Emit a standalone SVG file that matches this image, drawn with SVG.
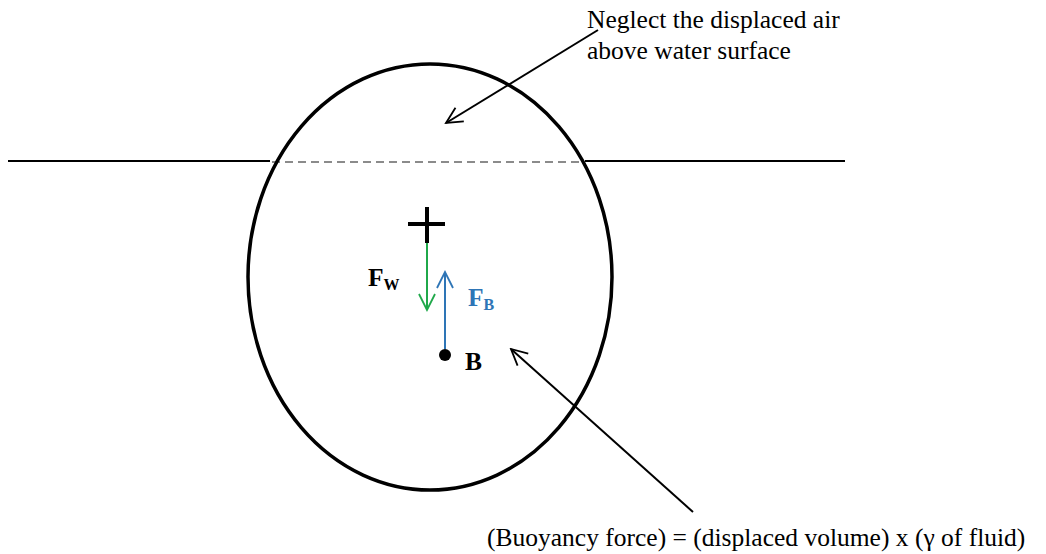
<svg xmlns="http://www.w3.org/2000/svg" width="1046" height="554" viewBox="0 0 1046 554">
<style>
.t{font-family:"Liberation Serif","Times New Roman",serif;font-size:25.5px;fill:#000}
.b{font-weight:bold}
.ln{stroke:#000;stroke-width:2;fill:none}
</style>
<defs>
<marker id="ah" viewBox="0 0 20 20" refX="18" refY="10" markerWidth="20" markerHeight="20" markerUnits="userSpaceOnUse" orient="auto">
<path d="M2,2 L18,10 L2,18" fill="none" stroke="#000" stroke-width="1.8"/>
</marker>
<marker id="ag" viewBox="0 0 20 20" refX="18" refY="10" markerWidth="20" markerHeight="20" markerUnits="userSpaceOnUse" orient="auto">
<path d="M2,2 L18,10 L2,18" fill="none" stroke="#1fa84a" stroke-width="1.8"/>
</marker>
<marker id="ab" viewBox="0 0 20 20" refX="18" refY="10" markerWidth="20" markerHeight="20" markerUnits="userSpaceOnUse" orient="auto">
<path d="M2,2 L18,10 L2,18" fill="none" stroke="#2e75b6" stroke-width="1.8"/>
</marker>
</defs>
<rect width="1046" height="554" fill="#fff"/>
<g id="water">
<line x1="8" y1="161" x2="270" y2="161" class="ln"/>
<line x1="585" y1="161" x2="845" y2="161" class="ln"/>
<line x1="272" y1="162" x2="584" y2="162" stroke="#666" stroke-width="1.5" stroke-dasharray="8,5"/>
</g>
<g id="body">
<ellipse cx="430" cy="277" rx="182" ry="213" fill="none" stroke="#000" stroke-width="3.5"/>
</g>
<g id="cg">
<line x1="408" y1="224" x2="445" y2="224" stroke="#000" stroke-width="4"/>
<line x1="427" y1="207" x2="427" y2="243" stroke="#000" stroke-width="4"/>
</g>
<g id="B">
<circle cx="445" cy="355" r="6" fill="#000"/>
<text x="465" y="370" class="t b">B</text>
</g>
<g id="labels">
<text x="368" y="286" class="t b">F<tspan font-size="16" dy="4">W</tspan></text>
<text x="468" y="306" class="t b" style="fill:#2e75b6">F<tspan font-size="16" dy="4">B</tspan></text>
<text x="587" y="28" class="t">Neglect the displaced air</text>
<text x="587" y="59" class="t">above water surface</text>
<text x="487" y="546" class="t">(Buoyancy force) = (displaced volume) x (γ of fluid)</text>
</g>
<g id="connectors">
<line x1="427" y1="243" x2="427" y2="310" stroke="#1fa84a" stroke-width="2" marker-end="url(#ag)"/>
<line x1="445" y1="349" x2="445" y2="272" stroke="#2e75b6" stroke-width="2" marker-end="url(#ab)"/>
<line x1="598" y1="30" x2="446" y2="123" class="ln" marker-end="url(#ah)"/>
<line x1="693" y1="512" x2="511" y2="349" class="ln" marker-end="url(#ah)"/>
</g>
</svg>
